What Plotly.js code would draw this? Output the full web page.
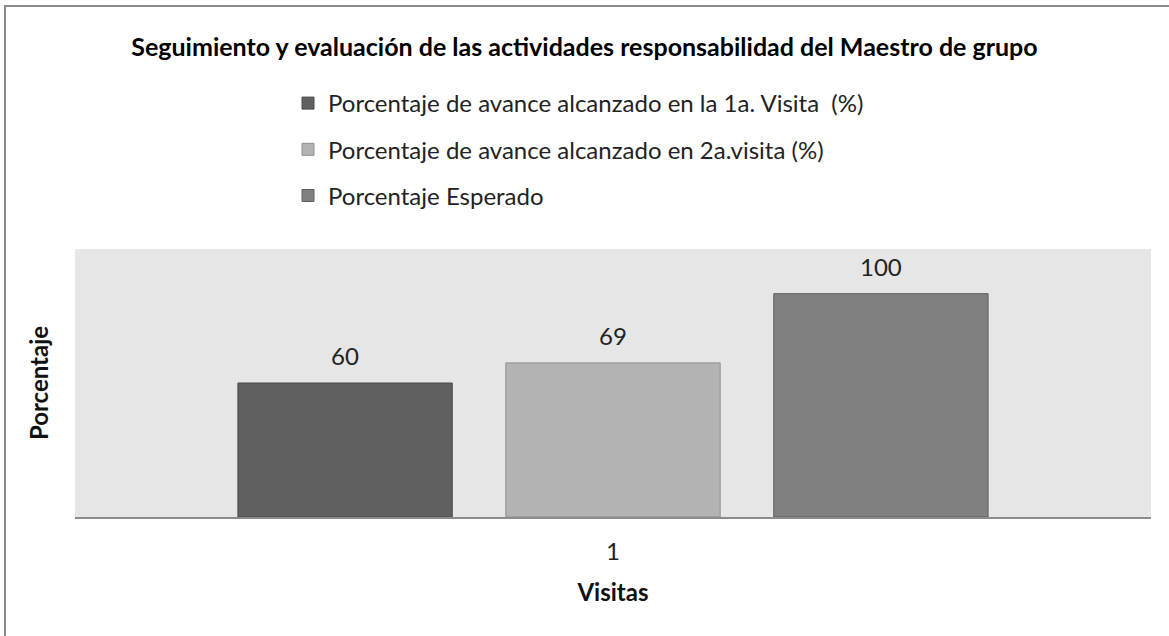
<!DOCTYPE html>
<html>
<head>
<meta charset="utf-8">
<script src="https://cdn.plot.ly/plotly-3.0.1.min.js"></script>
<style>html,body{margin:0;padding:0;background:#fff;}#chart{width:1169px;height:636px;}</style>
</head>
<body>
<div id="chart"></div>
<script>
const categories = ["1"];
const seriesNames = [
  "Porcentaje de avance alcanzado en la 1a. Visita  (%)",
  "Porcentaje de avance alcanzado en 2a.visita (%)",
  "Porcentaje Esperado"
];
const visita1 = [60];
const visita2 = [69];
const esperado = [100];
const seriesValues = [visita1, visita2, esperado];
const fills = ["#606060", "#b3b3b3", "#808080"];
const edges = ["#4a4a4a", "#8f8f8f", "#5e5e5e"];

const W = 1169, H = 636;
const L = 75, R = 1151, T = 249, B = 517;
const px = x => (x - L) / (R - L);
const py = y => (B - y) / (B - T);
const FONT = "Lato, 'Open Sans', sans-serif";
const BARGAP = 0.253;
const BARGROUPGAP = 0.2;

const traces = seriesValues.map((vals, i) => ({
  type: "bar",
  name: seriesNames[i],
  x: categories,
  y: vals,
  marker: {color: fills[i], line: {color: edges[i], width: 1}},
  legendgroup: "g" + i,
  hoverinfo: "skip"
}));

// value labels above the bars, positioned from the data and bar layout settings
const nSeries = seriesValues.length;
const slot = (1 - BARGAP) / nSeries;
const annotations = [];
seriesValues.forEach((vals, i) => {
  vals.forEach((v, j) => {
    annotations.push({
      xref: "x", yref: "y",
      x: j + (i - (nSeries - 1) / 2) * slot,
      y: v,
      text: String(v),
      showarrow: false,
      yanchor: "bottom",
      yshift: 11,
      font: {family: FONT, size: 24, color: "#222"}
    });
  });
});

const layout = {
  width: W, height: H,
  margin: {l: L, r: W - R, t: T, b: H - B, pad: 0},
  paper_bgcolor: "#ffffff",
  plot_bgcolor: "#e6e6e6",
  font: {family: FONT, color: "#111"},
  title: {
    text: "<b>Seguimiento y evaluación de las actividades responsabilidad del Maestro de grupo</b>",
    font: {family: FONT, size: 25, color: "#000"},
    x: 584.5 / W, xref: "container", xanchor: "center",
    y: 1 - 47 / H, yref: "container", yanchor: "middle"
  },
  showlegend: true,
  legend: {
    x: px(288), xanchor: "left",
    y: py(81), yanchor: "top",
    orientation: "v",
    font: {family: FONT, size: 24, color: "#222"},
    tracegroupgap: 12,
    bgcolor: "rgba(0,0,0,0)",
    traceorder: "grouped"
  },
  barmode: "group",
  bargap: BARGAP,
  bargroupgap: BARGROUPGAP,
  annotations: annotations,
  xaxis: {
    type: "category",
    showgrid: false,
    zeroline: false,
    showline: true, linecolor: "#8c8c8c", linewidth: 2,
    ticks: "",
    tickfont: {family: FONT, size: 24, color: "#222"},
    ticklabelstandoff: 12,
    title: {text: "<b>Visitas</b>", font: {family: FONT, size: 24, color: "#111"}, standoff: 20}
  },
  yaxis: {
    range: [0, 120],
    showgrid: false,
    zeroline: false,
    showticklabels: false,
    ticks: "",
    showline: false,
    title: {text: "<b>Porcentaje</b>", font: {family: FONT, size: 24, color: "#111"}, standoff: 18}
  },
  shapes: [
    {type: "line", xref: "paper", yref: "paper", x0: px(4), x1: px(1169), y0: py(6), y1: py(6), line: {color: "#8a8a8a", width: 2}},
    {type: "line", xref: "paper", yref: "paper", x0: px(5), x1: px(5), y0: py(5), y1: py(636), line: {color: "#8a8a8a", width: 2}}
  ]
};

Plotly.newPlot("chart", traces, layout, {displayModeBar: false, staticPlot: true});
</script>
</body>
</html>
